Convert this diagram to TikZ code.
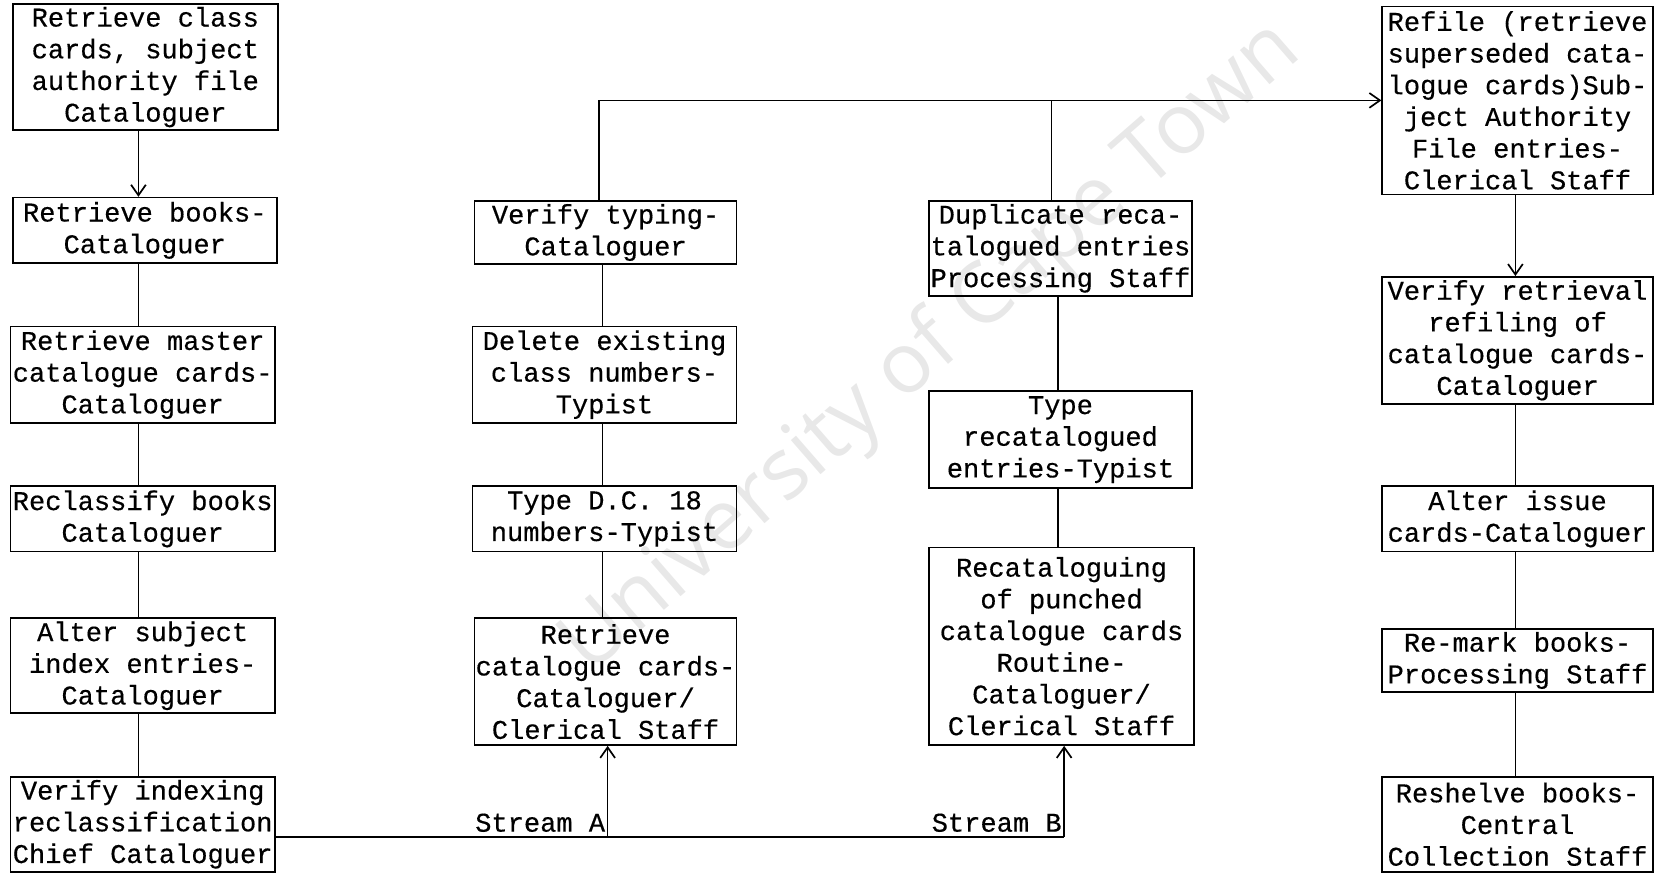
\documentclass[tikz,border=0pt]{standalone}
\usepackage{fontspec}
\newfontfamily\tyfont{Liberation Mono}[FakeBold=0.4]
\newfontfamily\wmfont{Open Sans}
\usetikzlibrary{arrows.meta}
\tikzset{
  box/.style={draw, line width=0.8pt, inner sep=0pt, align=center,
    font=\tyfont\fontsize{12.8}{15}\selectfont},
  conn/.style={line width=0.8pt},
  arr/.style={conn, -{Straight Barb[length=5pt,width=7pt]}},
  lbl/.style={inner sep=0pt, font=\tyfont\fontsize{12.8}{15}\selectfont},
  wm/.style={text=black!9, font=\wmfont\fontsize{40}{40}\selectfont, inner sep=0pt}
}
\newcommand\mybox[6]{\node[box, minimum width={(#4-#2)*0.5pt}, minimum height={(#5-#3)*0.5pt}] (#1) at ({(#2+#4)/2},{(#3+#5)/2}) {#6};}
\begin{document}
\begin{tikzpicture}[x=0.5pt,y=-0.5pt]
\useasboundingbox (0,0) rectangle (1568,826);
\node[wm, rotate=41] (water) at (882,330) {University of Cape Town};
% column 1
\mybox{B1}{12}{4}{263}{123}{Retrieve class\\cards, subject\\authority file\\Cataloguer}
\mybox{B2}{12}{187}{262}{249}{Retrieve books-\\Cataloguer}
\mybox{B3}{10}{309}{260}{400}{Retrieve master\\catalogue cards-\\Cataloguer}
\mybox{B4}{10}{460}{260}{522}{Reclassify books\\Cataloguer}
\mybox{B5}{10}{585}{260}{675}{Alter subject\\index entries-\\Cataloguer}
\mybox{B6}{10}{735}{260}{825}{Verify indexing\\reclassification\\Chief Cataloguer}
% column 2
\mybox{C1}{449}{190}{697}{250}{Verify typing-\\Cataloguer}
\mybox{C2}{447}{309}{697}{400}{Delete existing\\class numbers-\\Typist}
\mybox{C3}{447}{460}{697}{522}{Type D.C. 18\\numbers-Typist}
\mybox{C4}{449}{585}{697}{705}{Retrieve\\catalogue cards-\\Cataloguer/\\Clerical Staff}
% column 3
\mybox{D1}{879}{190}{1128}{280}{Duplicate reca-\\talogued entries\\Processing Staff}
\mybox{D2}{879}{370}{1128}{462}{Type\\recatalogued\\entries-Typist}
\mybox{D3}{879}{518}{1130}{705}{Recataloguing\\of punched\\catalogue cards\\Routine-\\Cataloguer/\\Clerical Staff}
% column 4
\mybox{E1}{1308}{6}{1564}{184}{Refile (retrieve\\superseded cata-\\logue cards)Sub-\\ject Authority\\File entries-\\Clerical Staff}
\mybox{E2}{1308}{262}{1564}{382}{Verify retrieval\\refiling of\\catalogue cards-\\Cataloguer}
\mybox{E3}{1308}{460}{1564}{522}{Alter issue\\cards-Cataloguer}
\mybox{E4}{1308}{595}{1564}{655}{Re-mark books-\\Processing Staff}
\mybox{E5}{1308}{735}{1564}{825}{Reshelve books-\\Central\\Collection Staff}
% guide coordinates
\coordinate (xa) at (131,0);
\coordinate (xc) at (570,0);
\coordinate (xt) at (567,0);
\coordinate (xd) at (995,0);
\coordinate (xe) at (1001,0);
\coordinate (xf) at (1434,0);
\coordinate (xsa) at (575,0);
\coordinate (xsb) at (1007,0);
\coordinate (ys) at (0,792);
% column 1 connectors
\draw[arr] (B1.south -| xa) -- (B2.north -| xa);
\draw[conn] (B2.south -| xa) -- (B3.north -| xa);
\draw[conn] (B3.south -| xa) -- (B4.north -| xa);
\draw[conn] (B4.south -| xa) -- (B5.north -| xa);
\draw[conn] (B5.south -| xa) -- (B6.north -| xa);
% column 2 connectors
\draw[conn] (C1.south -| xc) -- (C2.north -| xc);
\draw[conn] (C2.south -| xc) -- (C3.north -| xc);
\draw[conn] (C3.south -| xc) -- (C4.north -| xc);
% top line
\draw[arr] (C1.north -| xt) |- (E1.west);
\draw[conn] (D1.north -| xd) -- (xd |- E1.west);
% column 3 connectors
\draw[conn] (D1.south -| xe) -- (D2.north -| xe);
\draw[conn] (D2.south -| xe) -- (D3.north -| xe);
% column 4 connectors
\draw[arr] (E1.south -| xf) -- (E2.north -| xf);
\draw[conn] (E2.south -| xf) -- (E3.north -| xf);
\draw[conn] (E3.south -| xf) -- (E4.north -| xf);
\draw[conn] (E4.south -| xf) -- (E5.north -| xf);
% streams
\draw[conn] (B6.east |- ys) -- (ys -| xsb);
\draw[arr] (ys -| xsa) -- (C4.south -| xsa);
\draw[arr] (ys -| xsb) -- (D3.south -| xsb);
\node[lbl, anchor=base east] (sA) at (573,787) {Stream A};
\node[lbl, anchor=base east] (sB) at (1005,787) {Stream B};
\end{tikzpicture}
\end{document}
